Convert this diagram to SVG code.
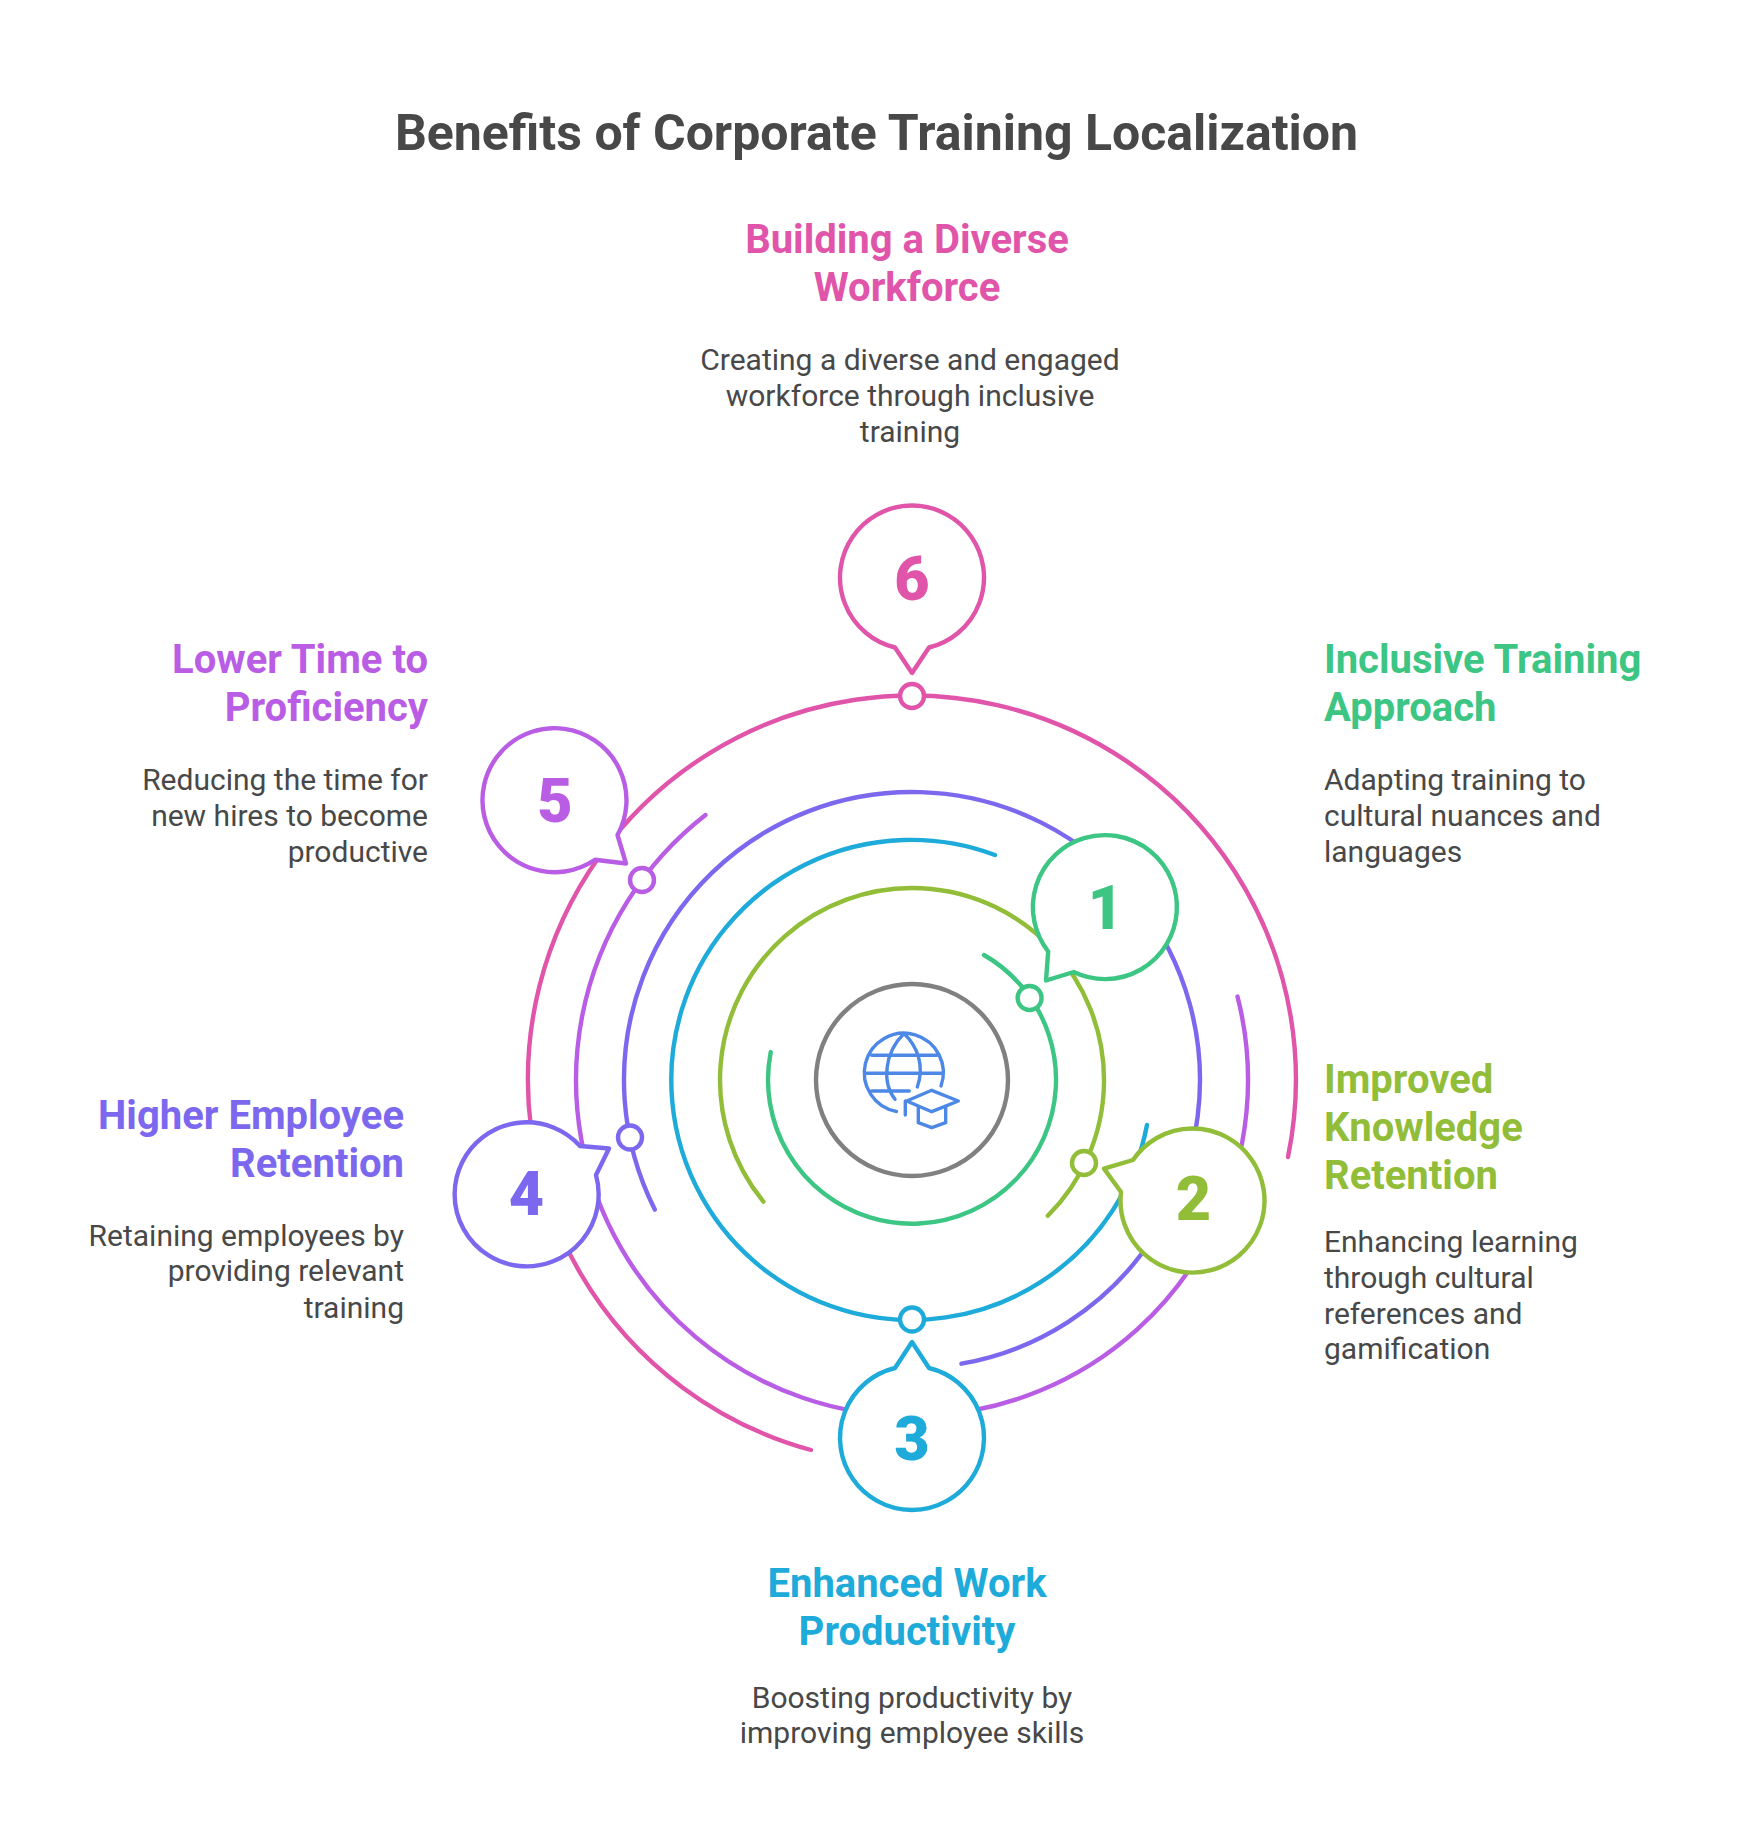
<svg xmlns="http://www.w3.org/2000/svg" width="1752" height="1848" viewBox="0 0 1752 1848">
<style>
text{font-family:Roboto,"Liberation Sans",sans-serif}
.t{font-size:50px;font-weight:700;fill:#484848}
.h{font-size:40px;font-weight:700}
.b{font-size:30px;font-weight:400;fill:#484848}
.n{font-size:61px;font-weight:900;text-anchor:middle}
.m{text-anchor:middle}.e{text-anchor:end}
.a,.c,.d{fill:none;stroke-width:4.4;stroke-linecap:round;stroke-linejoin:round}
.c,.d{fill:#fff}
.i{fill:none;stroke:#4e88e7;stroke-width:3.4;stroke-linecap:round;stroke-linejoin:round}
.g1{stroke:#3cc583}.g2{stroke:#92bd39}.g3{stroke:#1eabda}.g4{stroke:#7b68ee}.g5{stroke:#ba5de5}.g6{stroke:#e055a9}
.f1{fill:#3cc583}.f2{fill:#92bd39}.f3{fill:#1eabda}.f4{fill:#7b68ee}.f5{fill:#ba5de5}.f6{fill:#e055a9}
</style>
<rect width="1752" height="1848" fill="#fff"/>
<text class="t m" x="876.500" y="150">Benefits of Corporate Training Localization</text>
<g id="connectors">
<path class="a g6" d="M1288 1157A384 384 0 1 0 811 1450"/>
<path class="a g5" d="M705.5 815A336 336 0 1 0 1237.5 996.6"/>
<path class="a g4" d="M654.800 1209.600A288 288 0 1 1 961.400 1363.700"/>
<path class="a g3" d="M995 855A240 240 0 1 0 1147 1125"/>
<path class="a g2" d="M763.400 1201.600A192 192 0 1 1 1047.800 1215.800"/>
<path class="a g1" d="M984 955A144 144 0 1 1 770.700 1052.100"/>
</g>
<g id="center">
<circle cx="912" cy="1080" r="96" fill="#fff" stroke="#808080" stroke-width="4.400"/>
<path class="i" d="M941 1086A39.500 39.500 0 1 0 896.500 1111.500M871.700 1055.300H936.700M864.500 1073.300H943.500M871.700 1091H909.300M904 1033.500C884 1053 882 1083 895 1099.300M904 1033.500C917 1046 925 1065 917.300 1087"/>
<path class="i" d="M931.700 1090.300L958.300 1101L931.700 1111.700L906.700 1101ZM905.300 1101V1115M918.300 1107.700V1122.700L931.700 1127.700L945.700 1122.700V1107.700"/>
</g>
<g id="node-1">
<circle class="d g1" cx="1029.600" cy="998" r="12"/>
<path class="c g1" d="M1073.700 972A72 72 0 1 0 1048.200 951.500L1046 980.500Z"/>
<text class="n f1" x="1105.500" y="928.500">1</text>
<text class="h f1" x="1324" y="673">Inclusive Training</text>
<text class="h f1" x="1324" y="721">Approach</text>
<text class="b" x="1324" y="790">Adapting training to</text>
<text class="b" x="1324" y="826">cultural nuances and</text>
<text class="b" x="1324" y="862">languages</text>
</g>
<g id="node-2">
<circle class="d g2" cx="1084" cy="1163" r="12"/>
<path class="c g2" d="M1133 1160A72 72 0 1 1 1121 1192L1104 1168.600Z"/>
<text class="n f2" x="1193.500" y="1220">2</text>
<text class="h f2" x="1324" y="1093">Improved</text>
<text class="h f2" x="1324" y="1141">Knowledge</text>
<text class="h f2" x="1324" y="1189">Retention</text>
<text class="b" x="1324" y="1252">Enhancing learning</text>
<text class="b" x="1324" y="1288">through cultural</text>
<text class="b" x="1324" y="1324">references and</text>
<text class="b" x="1324" y="1359">gamification</text>
</g>
<g id="node-3">
<circle class="d g3" cx="912" cy="1319.500" r="12"/>
<path class="c g3" d="M895 1368A72 72 0 1 0 929 1368L912 1342Z"/>
<text class="n f3" x="912" y="1460">3</text>
<text class="h f3 m" x="907" y="1597">Enhanced Work</text>
<text class="h f3 m" x="907" y="1645">Productivity</text>
<text class="b m" x="912" y="1708">Boosting productivity by</text>
<text class="b m" x="912" y="1743">improving employee skills</text>
</g>
<g id="node-4">
<circle class="d g4" cx="630" cy="1137.500" r="12"/>
<path class="c g4" d="M580 1146A72 72 0 1 0 596 1175L609 1148.500Z"/>
<text class="n f4" x="526.500" y="1214.500">4</text>
<text class="h f4 e" x="404" y="1129">Higher Employee</text>
<text class="h f4 e" x="404" y="1177">Retention</text>
<text class="b e" x="404" y="1245.500">Retaining employees by</text>
<text class="b e" x="404" y="1281">providing relevant</text>
<text class="b e" x="404" y="1317.500">training</text>
</g>
<g id="node-5">
<circle class="d g5" cx="642" cy="880" r="12"/>
<path class="c g5" d="M617.500 835A72 72 0 1 0 595 859.700L626 863.500Z"/>
<text class="n f5" x="555" y="822">5</text>
<text class="h f5 e" x="428" y="673">Lower Time to</text>
<text class="h f5 e" x="428" y="721">Proficiency</text>
<text class="b e" x="428" y="790">Reducing the time for</text>
<text class="b e" x="428" y="826">new hires to become</text>
<text class="b e" x="428" y="862">productive</text>
</g>
<g id="node-6">
<circle class="d g6" cx="912" cy="696" r="12"/>
<path class="c g6" d="M895 647.500A72 72 0 1 1 929 647.500L912 673Z"/>
<text class="n f6" x="912" y="600">6</text>
<text class="h f6 m" x="907" y="253">Building a Diverse</text>
<text class="h f6 m" x="907" y="301">Workforce</text>
<text class="b m" x="910" y="370">Creating a diverse and engaged</text>
<text class="b m" x="910" y="406">workforce through inclusive</text>
<text class="b m" x="910" y="442">training</text>
</g>
</svg>
